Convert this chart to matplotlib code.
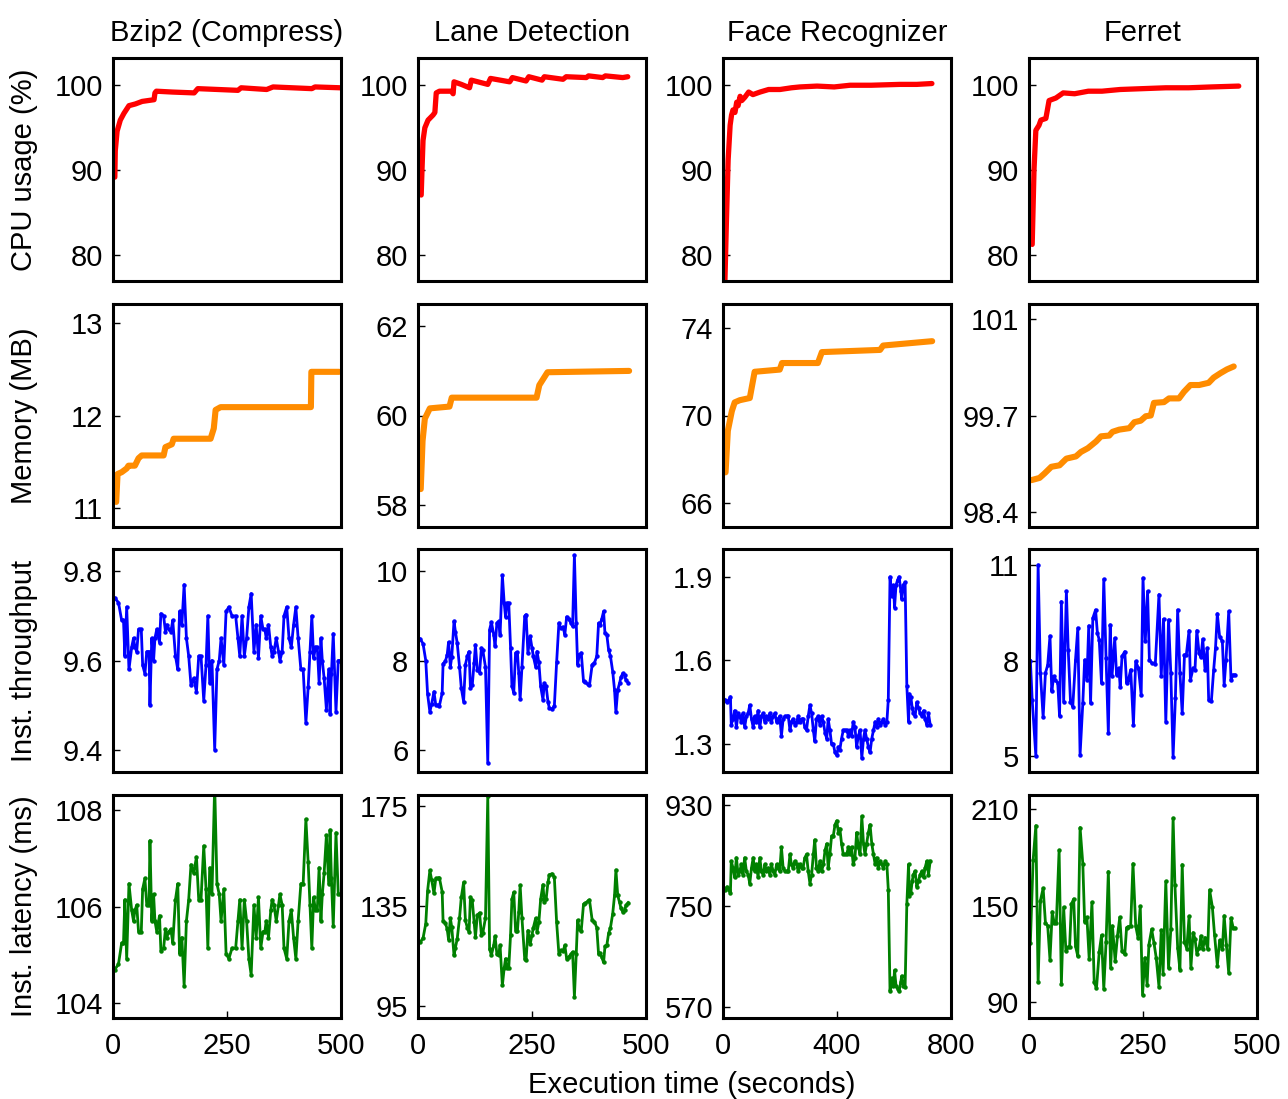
import numpy as np
import matplotlib.pyplot as plt

plt.rcParams["font.family"] = ["Liberation Sans", "DejaVu Sans"]

# ---- app names -------------------------------------------------------------
apps = ["Bzip2 (Compress)", "Lane Detection", "Face Recognizer", "Ferret"]

# ---- CPU usage (%) ---------------------------------------------------------
bzip_cpu_t = [4, 5, 9, 16, 24, 35, 49, 64, 90, 92, 95, 130, 178, 186, 274, 281, 337, 351, 436, 443, 499]
bzip_cpu = [89.2, 92.3, 94.6, 95.9, 96.7, 97.6, 97.8, 98.1, 98.3, 99.1, 99.3, 99.2, 99.1, 99.6, 99.4,
            99.7, 99.5, 99.8, 99.6, 99.8, 99.7]
lane_cpu_t = [7, 9, 11, 15, 22, 33, 37, 40, 47, 73, 77, 79, 95, 113, 117, 153, 159, 201, 207, 237, 243,
              272, 277, 318, 325, 369, 374, 405, 411, 449, 460]
lane_cpu = [87.1, 90.4, 93.5, 95.0, 95.9, 96.5, 96.8, 99.1, 99.3, 99.3, 99.0, 100.4, 100.1, 99.7, 100.6,
            100.1, 100.8, 100.4, 100.9, 100.5, 101.0, 100.6, 101.0, 100.7, 101.0, 100.9, 101.1, 100.9,
            101.1, 100.9, 101.0]
face_cpu_t = [6, 12, 18, 25, 30, 35, 42, 48, 53, 60, 66, 77, 90, 105, 130, 160, 200, 240, 270, 330, 390,
              446, 520, 621, 680, 733]
face_cpu = [76.0, 84.0, 91.2, 95.3, 96.5, 97.1, 96.8, 98.0, 97.6, 98.7, 98.2, 98.6, 99.2, 98.9, 99.2,
            99.5, 99.5, 99.7, 99.8, 99.9, 99.8, 100.0, 100.0, 100.1, 100.1, 100.2]
ferret_cpu_t = [7, 11, 15, 22, 26, 37, 44, 59, 75, 100, 130, 160, 200, 250, 300, 350, 400, 460]
ferret_cpu = [81.3, 90.1, 94.7, 95.3, 95.9, 96.1, 98.2, 98.5, 99.1, 99.0, 99.3, 99.3, 99.5, 99.6, 99.7,
              99.7, 99.8, 99.9]

# ---- Memory (MB) -----------------------------------------------------------
bzip_mem_t = [7, 10, 19, 30, 34, 48, 56, 63, 111, 115, 129, 133, 214, 221, 225, 236, 434, 435, 496]
bzip_mem = [11.07, 11.37, 11.39, 11.43, 11.46, 11.46, 11.54, 11.57, 11.57, 11.66, 11.69, 11.75, 11.75,
            11.86, 12.06, 12.09, 12.09, 12.47, 12.47]
lane_mem_t = [6, 10, 15, 26, 69, 74, 260, 266, 284, 463]
lane_mem = [58.35, 59.43, 59.93, 60.16, 60.2, 60.4, 60.4, 60.68, 60.97, 61.0]
face_mem_t = [9, 17, 31, 41, 59, 94, 111, 199, 207, 333, 347, 551, 562, 734]
face_mem = [67.4, 69.3, 70.2, 70.6, 70.7, 70.8, 72.0, 72.1, 72.4, 72.4, 72.9, 73.0, 73.2, 73.4]
ferret_mem_t = [5, 23, 34, 49, 67, 82, 103, 114, 129, 147, 158, 176, 183, 198, 220, 231, 245, 256, 267,
                274, 296, 307, 329, 340, 354, 373, 394, 405, 420, 434, 449]
ferret_mem = [98.83, 98.86, 98.92, 99.01, 99.03, 99.12, 99.15, 99.21, 99.26, 99.35, 99.42, 99.43, 99.48,
              99.51, 99.53, 99.61, 99.63, 99.69, 99.70, 99.87, 99.88, 99.93, 99.93, 100.02, 100.11,
              100.11, 100.14, 100.21, 100.27, 100.32, 100.36]

# ---- Instantaneous throughput / latency ------------------------------------
bzip_t = [4, 12, 19, 23, 26, 30, 35, 41, 45, 48, 52, 56, 62, 65, 70, 74, 79, 81, 85, 89, 92, 96, 102,
          105, 111, 115, 118, 122, 127, 131, 137, 142, 146, 151, 156, 161, 166, 171, 177, 183, 188, 193,
          199, 204, 208, 212, 217, 223, 228, 233, 237, 243, 248, 254, 261, 269, 274, 278, 283, 288, 293,
          298, 303, 309, 314, 319, 324, 329, 333, 336, 341, 346, 349, 353, 358, 363, 366, 371, 375, 381,
          386, 391, 396, 401, 406, 412, 417, 423, 428, 432, 436, 440, 444, 448, 452, 456, 459, 463, 468,
          473, 476, 479, 483, 489, 494, 498]
bzip_tput = [9.74, 9.73, 9.69, 9.69, 9.61, 9.72, 9.58, 9.63, 9.65, 9.63, 9.62, 9.67, 9.67, 9.59, 9.57,
             9.62, 9.62, 9.50, 9.65, 9.60, 9.65, 9.67, 9.64, 9.705, 9.70, 9.665, 9.68, 9.67, 9.665, 9.69,
             9.61, 9.58, 9.71, 9.68, 9.77, 9.65, 9.61, 9.545, 9.56, 9.53, 9.61, 9.61, 9.51, 9.59, 9.70,
             9.55, 9.60, 9.40, 9.58, 9.60, 9.65, 9.59, 9.71, 9.72, 9.70, 9.70, 9.65, 9.61, 9.70, 9.61,
             9.65, 9.72, 9.75, 9.62, 9.68, 9.605, 9.70, 9.67, 9.67, 9.65, 9.68, 9.63, 9.61, 9.62, 9.65,
             9.62, 9.60, 9.62, 9.70, 9.72, 9.65, 9.63, 9.68, 9.72, 9.65, 9.58, 9.58, 9.46, 9.54, 9.62,
             9.70, 9.605, 9.63, 9.63, 9.55, 9.65, 9.60, 9.56, 9.49, 9.58, 9.48, 9.57, 9.66, 9.485, 9.60,
             9.60]
bzip_lat = [104.70, 104.81, 105.25, 105.25, 106.14, 104.92, 106.47, 105.92, 105.70, 105.92, 106.03,
            105.48, 105.48, 106.36, 106.58, 106.03, 106.03, 107.36, 105.70, 106.25, 105.70, 105.48,
            105.81, 105.09, 105.14, 105.53, 105.36, 105.48, 105.53, 105.25, 106.14, 106.47, 105.03,
            105.36, 104.37, 105.70, 106.14, 106.86, 106.69, 107.02, 106.14, 106.14, 107.25, 106.36,
            105.14, 106.80, 106.25, 108.50, 106.47, 106.25, 105.70, 106.36, 105.03, 104.92, 105.14,
            105.14, 105.70, 106.14, 105.14, 106.14, 105.70, 104.92, 104.59, 106.03, 105.36, 106.19,
            105.14, 105.48, 105.48, 105.70, 105.36, 105.92, 106.14, 106.03, 105.70, 106.03, 106.25,
            106.03, 105.14, 104.92, 105.70, 105.92, 105.36, 104.92, 105.70, 106.47, 106.47, 107.80,
            106.91, 106.03, 105.14, 106.19, 105.92, 105.92, 106.80, 105.70, 106.25, 106.69, 107.47,
            106.47, 107.58, 106.58, 105.59, 107.52, 106.25, 106.25]

lane_t = [5, 11, 17, 21, 26, 30, 35, 39, 44, 47, 53, 55, 60, 64, 67, 71, 74, 79, 82, 86, 91, 95, 100,
          104, 108, 112, 115, 119, 123, 126, 130, 135, 139, 142, 148, 153, 157, 161, 166, 169, 173, 177,
          180, 185, 189, 192, 195, 199, 203, 206, 210, 214, 218, 221, 224, 228, 234, 237, 241, 246, 250,
          253, 258, 261, 265, 269, 274, 277, 281, 285, 288, 294, 299, 304, 309, 313, 318, 322, 326, 331,
          336, 339, 343, 347, 350, 354, 358, 363, 367, 372, 376, 382, 387, 392, 396, 399, 403, 407, 410,
          414, 418, 422, 427, 431, 434, 438, 442, 445, 449, 453, 456, 461]
lane_tput = [8.48, 8.38, 8.00, 7.25, 6.85, 7.03, 7.30, 7.00, 7.00, 6.99, 7.27, 7.93, 7.98, 8.13, 8.41,
             7.86, 8.08, 8.88, 8.65, 8.39, 7.86, 7.38, 7.08, 7.91, 8.09, 8.20, 7.38, 7.45, 7.94, 8.35,
             7.79, 7.73, 8.28, 8.24, 7.85, 5.71, 8.69, 8.86, 8.58, 8.32, 8.84, 8.88, 8.58, 9.91, 9.29,
             8.98, 9.29, 9.29, 8.28, 7.42, 7.28, 8.17, 8.18, 7.71, 7.13, 7.86, 8.99, 9.03, 8.17, 8.54,
             8.28, 8.09, 7.86, 8.20, 7.96, 7.42, 7.12, 7.49, 7.42, 7.08, 6.93, 6.91, 6.98, 7.96, 8.84,
             8.73, 8.75, 8.58, 8.98, 8.92, 8.83, 8.77, 10.36, 8.84, 7.91, 8.13, 8.17, 7.53, 7.51, 7.47,
             7.44, 7.91, 7.95, 8.09, 8.84, 8.80, 8.93, 9.10, 8.61, 8.58, 8.24, 8.10, 7.75, 7.34, 6.84,
             7.34, 7.49, 7.62, 7.71, 7.67, 7.56, 7.50]
lane_lat = [120.5, 122.0, 127.8, 141.0, 149.2, 145.4, 140.0, 146.0, 146.0, 146.2, 140.6, 128.9, 128.1,
            125.7, 121.5, 130.0, 126.5, 115.1, 118.2, 121.8, 130.0, 138.5, 144.4, 129.2, 126.3, 124.6,
            138.5, 137.2, 128.7, 122.4, 131.2, 132.2, 123.4, 124.0, 130.2, 179.0, 117.6, 115.3, 119.1,
            122.8, 115.6, 115.1, 119.1, 103.1, 110.0, 113.8, 110.0, 110.0, 123.4, 137.7, 140.4, 125.1,
            124.9, 132.6, 143.3, 130.0, 113.7, 113.2, 125.1, 119.7, 123.4, 126.3, 130.0, 124.6, 128.4,
            137.7, 143.5, 136.4, 137.7, 144.4, 147.5, 147.9, 146.4, 128.4, 115.6, 117.1, 116.8, 119.1,
            113.8, 114.6, 115.7, 116.5, 98.6, 115.6, 129.2, 125.7, 125.1, 135.7, 136.1, 136.8, 137.4,
            129.2, 128.6, 126.3, 115.6, 116.1, 114.4, 112.3, 118.7, 119.1, 124.0, 126.2, 131.9, 139.2,
            149.4, 139.2, 136.4, 134.1, 132.6, 133.2, 135.2, 136.3]

face_t = [6, 14, 21, 26, 29, 35, 41, 47, 53, 59, 64, 70, 76, 82, 88, 94, 100, 106, 111, 117, 123, 129,
          135, 141, 147, 152, 158, 164, 170, 176, 182, 188, 193, 199, 205, 211, 217, 223, 229, 235, 240,
          246, 252, 258, 264, 270, 276, 281, 287, 293, 299, 305, 311, 317, 322, 328, 334, 340, 346, 352,
          358, 364, 369, 375, 381, 387, 393, 399, 405, 410, 416, 422, 428, 434, 440, 446, 451, 457, 463,
          469, 475, 481, 487, 493, 498, 504, 510, 516, 522, 528, 534, 539, 545, 551, 557, 563, 569, 575,
          580, 586, 592, 598, 602, 607, 613, 618, 624, 627, 633, 639, 645, 651, 654, 659, 664, 668, 674,
          680, 686, 692, 698, 704, 709, 715, 721, 727]
face_tput = [1.46, 1.45, 1.46, 1.47, 1.37, 1.39, 1.42, 1.36, 1.41, 1.40, 1.38, 1.41, 1.36, 1.40, 1.41,
             1.44, 1.39, 1.36, 1.40, 1.38, 1.42, 1.36, 1.40, 1.41, 1.38, 1.40, 1.39, 1.41, 1.38, 1.40,
             1.41, 1.38, 1.39, 1.40, 1.33, 1.39, 1.40, 1.40, 1.40, 1.35, 1.38, 1.39, 1.37, 1.38, 1.40,
             1.38, 1.39, 1.39, 1.36, 1.35, 1.40, 1.44, 1.41, 1.35, 1.31, 1.39, 1.40, 1.37, 1.40, 1.38,
             1.34, 1.32, 1.39, 1.35, 1.30, 1.30, 1.27, 1.26, 1.29, 1.28, 1.32, 1.35, 1.35, 1.35, 1.33,
             1.35, 1.33, 1.38, 1.36, 1.29, 1.33, 1.35, 1.25, 1.32, 1.35, 1.32, 1.29, 1.27, 1.32, 1.35,
             1.38, 1.36, 1.39, 1.37, 1.38, 1.39, 1.37, 1.38, 1.46, 1.90, 1.83, 1.87, 1.79, 1.87, 1.89,
             1.90, 1.85, 1.82, 1.87, 1.88, 1.51, 1.38, 1.48, 1.47, 1.43, 1.41, 1.40, 1.45, 1.43, 1.41,
             1.40, 1.42, 1.39, 1.37, 1.41, 1.37]
face_lat = [779, 784, 779, 773, 830, 818, 801, 836, 806, 812, 824, 806, 836, 812, 806, 790, 818, 836,
            812, 824, 801, 836, 812, 806, 824, 812, 818, 806, 824, 812, 806, 824, 818, 812, 855, 818,
            812, 812, 812, 842, 824, 818, 830, 824, 812, 824, 818, 818, 836, 842, 812, 790, 806, 842,
            868, 818, 812, 830, 812, 824, 849, 861, 818, 842, 875, 875, 895, 902, 881, 888, 861, 842,
            842, 842, 855, 842, 855, 824, 836, 881, 855, 842, 910, 861, 842, 861, 881, 895, 861, 842,
            824, 836, 818, 830, 824, 818, 830, 824, 779, 598, 621, 608, 635, 608, 602, 598, 615, 625,
            608, 605, 753, 824, 768, 773, 795, 806, 812, 784, 795, 806, 812, 801, 818, 830, 806, 830]

ferret_t = [3, 7, 15, 20, 25, 31, 36, 41, 46, 50, 54, 58, 63, 67, 71, 76, 82, 86, 91, 96, 102, 107, 112,
            118, 122, 127, 131, 135, 140, 146, 150, 154, 159, 164, 169, 174, 178, 182, 188, 192, 197,
            200, 204, 210, 214, 218, 223, 229, 234, 240, 246, 250, 255, 260, 264, 269, 277, 285, 290,
            295, 300, 306, 311, 316, 321, 326, 331, 336, 341, 345, 351, 354, 360, 364, 368, 373, 377,
            381, 386, 391, 394, 400, 405, 409, 413, 418, 424, 428, 432, 438, 443, 447, 451]
ferret_tput = [8.00, 6.76, 5.01, 11.00, 7.60, 6.22, 7.60, 7.86, 8.77, 7.03, 7.50, 7.39, 7.29, 6.26,
               9.85, 6.71, 10.17, 8.34, 6.71, 6.55, 8.02, 9.02, 5.04, 6.66, 8.02, 7.39, 9.09, 6.66,
               9.33, 9.59, 8.86, 8.65, 7.29, 10.55, 8.07, 5.71, 9.12, 7.50, 8.70, 7.55, 7.76, 7.18,
               8.13, 8.28, 7.29, 7.39, 7.71, 5.98, 7.97, 7.76, 6.92, 10.59, 8.60, 10.17, 8.02, 7.92,
               7.90, 10.07, 7.50, 9.30, 6.08, 9.28, 7.60, 4.98, 6.81, 9.59, 7.60, 6.34, 8.18, 8.18,
               8.94, 7.39, 7.76, 7.71, 8.94, 8.23, 8.10, 8.67, 7.71, 8.39, 6.76, 6.74, 7.71, 8.39,
               9.47, 8.75, 8.60, 7.24, 8.02, 9.54, 7.39, 7.55, 7.55]
ferret_lat_t = [3, 9, 15, 20, 25, 31, 36, 41, 46, 51, 55, 60, 66, 71, 76, 81, 85, 89, 93, 98, 102, 107,
                112, 118, 122, 127, 132, 138, 143, 148, 154, 159, 164, 169, 174, 179, 183, 189, 194,
                199, 204, 210, 214, 218, 223, 228, 234, 239, 244, 249, 254, 259, 263, 269, 274, 279,
                285, 290, 294, 300, 306, 311, 316, 320, 326, 331, 336, 341, 346, 351, 355, 360, 364,
                368, 373, 377, 381, 386, 392, 396, 402, 407, 413, 418, 424, 428, 433, 438, 443, 448, 451]
ferret_lat = [126.9, 178.3, 199.9, 102.2, 153.1, 160.9, 139.5, 137.4, 116.4, 146.2, 139.5, 139.5, 184.6,
              101.3, 149.0, 121.5, 124.1, 124.1, 151.0, 154.2, 124.8, 118.5, 198.7, 176.2, 139.9,
              142.7, 116.9, 152.1, 102.2, 98.5, 121.1, 131.5, 98.1, 127.3, 171.3, 111.2, 137.4, 115.4,
              131.1, 142.7, 121.7, 119.6, 136.4, 137.0, 137.4, 176.2, 137.4, 130.1, 149.6, 94.5, 117.5,
              100.7, 125.8, 135.3, 126.9, 117.5, 99.5, 134.7, 107.7, 165.1, 111.2, 135.3, 204.6, 163.0,
              123.8, 110.1, 175.6, 127.3, 123.2, 143.3, 111.2, 133.2, 129.4, 120.2, 123.8, 131.1, 122.7,
              130.1, 122.7, 159.9, 149.4, 131.5, 112.7, 128.4, 122.7, 143.7, 125.2, 108.0, 142.3,
              136.0, 136.0]

# ---- axis setup --------------------------------------------------------------
row_labels = ["CPU usage (%)", "Memory (MB)", "Inst. throughput", "Inst. latency (ms)"]
x_limits = [500, 500, 800, 500]
x_ticks = [[0, 250, 500], [0, 250, 500], [0, 400, 800], [0, 250, 500]]

y_limits = [
    [(77, 103.2), (77, 103.2), (77, 103.2), (77, 103.2)],
    [(10.8, 13.2), (57.5, 62.5), (64.9, 75.1), (98.2, 101.2)],
    [(9.35, 9.85), (5.5, 10.5), (1.2, 2.0), (4.5, 11.5)],
    [(103.7, 108.3), (90, 179.5), (550, 948), (80, 219)],
]
y_ticks = [
    [[80, 90, 100]] * 4,
    [[11, 12, 13], [58, 60, 62], [66, 70, 74], [98.4, 99.7, 101]],
    [[9.4, 9.6, 9.8], [6, 8, 10], [1.3, 1.6, 1.9], [5, 8, 11]],
    [[104, 106, 108], [95, 135, 175], [570, 750, 930], [90, 150, 210]],
]
y_ticklabels = [
    [["80", "90", "100"]] * 4,
    [["11", "12", "13"], ["58", "60", "62"], ["66", "70", "74"], ["98.4", "99.7", "101"]],
    [["9.4", "9.6", "9.8"], ["6", "8", "10"], ["1.3", "1.6", "1.9"], ["5", "8", "11"]],
    [["104", "106", "108"], ["95", "135", "175"], ["570", "750", "930"], ["90", "150", "210"]],
]

series = [
    [(bzip_cpu_t, bzip_cpu), (lane_cpu_t, lane_cpu), (face_cpu_t, face_cpu), (ferret_cpu_t, ferret_cpu)],
    [(bzip_mem_t, bzip_mem), (lane_mem_t, lane_mem), (face_mem_t, face_mem), (ferret_mem_t, ferret_mem)],
    [(bzip_t, bzip_tput), (lane_t, lane_tput), (face_t, face_tput), (ferret_t, ferret_tput)],
    [(bzip_t, bzip_lat), (lane_t, lane_lat), (face_t, face_lat), (ferret_lat_t, ferret_lat)],
]
row_style = [
    dict(color="#ff0000", lw=3.8, solid_joinstyle="round", solid_capstyle="round"),
    dict(color="#ff8c00", lw=4.4, solid_joinstyle="round", solid_capstyle="round"),
    dict(color="#0000ff", lw=2.0, marker="o", ms=2.2),
    dict(color="#008000", lw=2.0, marker="o", ms=2.2),
]

FS = 21
W, H = 1288, 1099
fig = plt.figure(figsize=(W / 100, H / 100), dpi=100)

col_left = [113, 418, 723, 1029]
row_top = [58, 304, 549, 795]
ax_w, ax_h = 228, 223

for r in range(4):
    for c in range(4):
        ax = fig.add_axes([col_left[c] / W, 1 - (row_top[r] + ax_h) / H, ax_w / W, ax_h / H])
        t, v = series[r][c]
        ax.plot(t, v, **row_style[r])
        ax.set_xlim(0, x_limits[c])
        ax.set_ylim(*y_limits[r][c])
        ax.set_yticks(y_ticks[r][c])
        ax.set_yticklabels(y_ticklabels[r][c])
        ax.tick_params(axis="y", direction="in", length=5, width=1, labelsize=FS, pad=7,
                       left=True, right=False)
        if r == 3:
            ax.set_xticks(x_ticks[c])
            ax.tick_params(axis="x", direction="in", length=5, width=1, labelsize=FS, pad=10,
                           top=False)
        else:
            ax.set_xticks([])
        for s in ax.spines.values():
            s.set_linewidth(2.2)
        if r == 0:
            ax.set_title(apps[c], fontsize=FS, pad=12)
        if c == 0:
            ax.set_ylabel(row_labels[r], fontsize=FS)
            ax.yaxis.set_label_coords(-0.33, 0.5)

fig.text(692 / W, 1 - 1085 / H, "Execution time (seconds)", ha="center", va="center", fontsize=FS)

fig.savefig("out.png", dpi=100)
